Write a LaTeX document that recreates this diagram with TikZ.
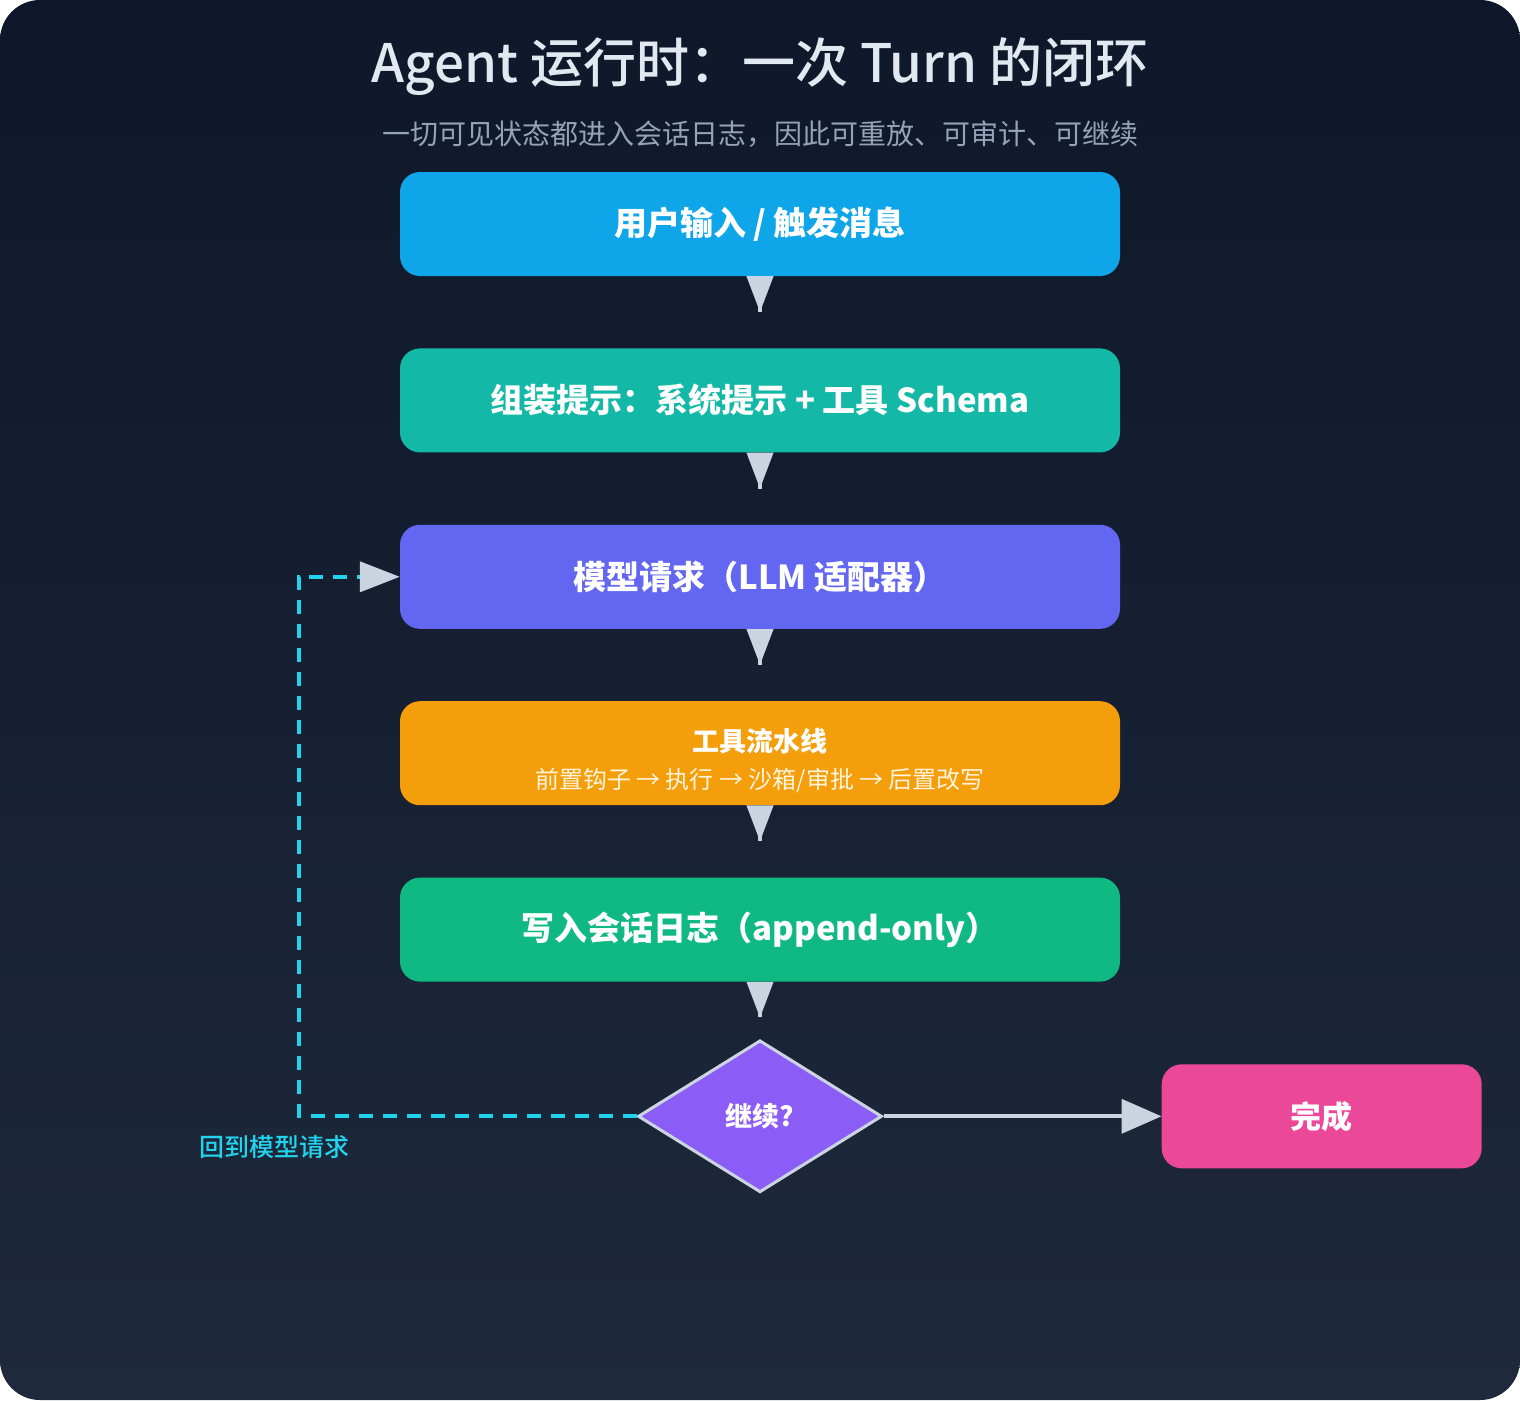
\documentclass[tikz,border=0pt]{standalone}
\usepackage{fontspec}
\setmainfont{Noto Sans CJK SC}
\IfFontExistsTF{Noto Sans CJK SC Medium}
	{\newfontfamily\medfont{Noto Sans CJK SC Medium}}
	{\newcommand\medfont{\bfseries}}
\usetikzlibrary{positioning,shapes.geometric,arrows.meta}

\definecolor{bgtop}{HTML}{0F172A}
\definecolor{bgbot}{HTML}{1E293B}
\definecolor{titlegrey}{HTML}{E2E8F0}
\definecolor{subgrey}{HTML}{94A3B8}
\definecolor{arrowgrey}{HTML}{CBD5E1}
\definecolor{loopcyan}{HTML}{22D3EE}
\definecolor{inputblue}{HTML}{0EA5E9}
\definecolor{promptteal}{HTML}{14B8A6}
\definecolor{llmindigo}{HTML}{6366F1}
\definecolor{toolamber}{HTML}{F59E0B}
\definecolor{loggreen}{HTML}{10B981}
\definecolor{decviolet}{HTML}{8B5CF6}
\definecolor{donepink}{HTML}{EC4899}
\definecolor{toolsub}{HTML}{FFF4DC}

\tikzset{
	stepbox/.style={rounded corners=20pt, minimum width=720pt, minimum height=104pt, inner sep=0pt,
		text=white, align=center, font=\fontsize{33}{38}\selectfont\bfseries},
	stub/.style={draw=arrowgrey, line width=4pt, shorten >=36pt, {Triangle[reversed,length=36pt,width=26pt]}-},
	flow/.style={draw=arrowgrey, line width=4pt, -{Triangle[length=40pt,width=34pt]}},
	loopback/.style={draw=loopcyan, line width=4pt, dash pattern=on 14pt off 10pt,
		-{Triangle[length=40pt,width=30pt,color=arrowgrey]}},
	decision/.style={diamond, minimum width=244pt, minimum height=152pt, inner sep=0pt, fill=decviolet,
		draw=arrowgrey, line width=3pt, text=white, font=\fontsize{27}{32}\selectfont\bfseries},
}

\begin{document}
\begin{tikzpicture}[x=1pt,y=-1pt]
			\fill[white] (0,0) rectangle (1520,1400);
			\shade[top color=bgtop, bottom color=bgbot, rounded corners=40pt] (0,0) rectangle (1520,1400);

			\node[text=titlegrey, font=\fontsize{53}{60}\selectfont\medfont] (title) at (760,67) {Agent 运行时：一次 Turn 的闭环};
			\node[text=subgrey, font=\fontsize{28}{34}\selectfont] (subtitle) at (760,134) {一切可见状态都进入会话日志，因此可重放、可审计、可继续};

			\node[stepbox, fill=inputblue] (user) at (760,224) {用户输入 / 触发消息};
			\node[stepbox, fill=promptteal, below=72pt of user] (prompt) {组装提示：系统提示 + 工具 Schema};
			\node[stepbox, fill=llmindigo, below=72pt of prompt] (llm) {模型请求（LLM 适配器）};
			\node[stepbox, fill=toolamber, below=72pt of llm] (tools) {\rule{0pt}{38pt}\fontsize{27}{34}\selectfont 工具流水线\\[-1pt]
				{\color{toolsub}\fontsize{24}{30}\selectfont\mdseries 前置钩子 → 执行 → 沙箱/审批 → 后置改写}};
			\node[stepbox, fill=loggreen, below=72pt of tools] (log) {写入会话日志（append-only）};
			\node[decision, below=57pt of log] (cont) {继续?};
			\node[stepbox, fill=donepink, minimum width=320pt, font=\fontsize{31}{36}\selectfont\bfseries, right=278pt of cont] (done) {完成};

			\draw[stub] (user) -- (prompt);
			\draw[stub] (prompt) -- (llm);
			\draw[stub] (llm) -- (tools);
			\draw[stub] (tools) -- (log);
			\draw[stub, shorten >=22pt] (log) -- (cont);
			\draw[flow] (cont) -- (done);

			\coordinate (bend) at ([xshift=-338pt]cont.west);
			\draw[loopback] (cont.west) -- (bend) |- (llm.west);
			\node[text=loopcyan, inner sep=0pt, font=\fontsize{25}{30}\selectfont\medfont, below=19pt of bend, xshift=-24pt] (backnote) {回到模型请求};
		\end{tikzpicture}
\end{document}
